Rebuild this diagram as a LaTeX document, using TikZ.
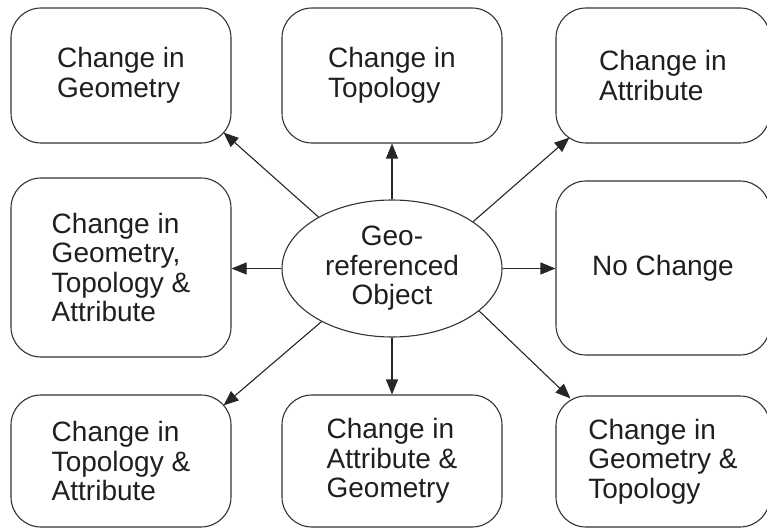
\documentclass[tikz,border=0pt]{standalone}
\usepackage{fontspec}
\setmainfont{Liberation Sans}
\usetikzlibrary{shapes,arrows.meta,calc}
\begin{document}
\begin{tikzpicture}[x=1pt,y=-1pt,
chg/.style={draw=black!80,line width=1.1pt,rounded corners=30pt,minimum width=220pt,minimum height=135pt,inner sep=0pt,align=left,text=black!88,font=\fontsize{28}{29.5}\selectfont},
obj/.style={ellipse,draw=black!80,line width=1.1pt,minimum width=220pt,minimum height=137pt,inner sep=0pt,align=center,text=black!88,font=\fontsize{28}{29.5}\selectfont},
arr/.style={draw=black!85,line width=1.1pt,-{Triangle[length=15pt,width=12pt]}}]
\useasboundingbox(0,0)rectangle(767,529);
\node[obj](geo)at(392,268.5){Geo-\\referenced\\Object};
\node[chg](g)at(121,75.5){Change in\\Geometry};
\node[chg](t)at(392,75.5){Change in\\Topology};
\node[chg,minimum width=214pt](a)at(663,75.5){Change in\\Attribute};
\node[chg,minimum height=179pt](gta)at(121,267.5){Change in\\Geometry,\\Topology \&\\Attribute};
\node[chg,minimum width=214pt,minimum height=174pt](nc)at(663,268){No Change};
\node[chg,minimum height=132pt](ta)at(121,461){Change in\\Topology \&\\Attribute};
\node[chg,minimum height=132pt](ag)at(392,461){Change in\\Attribute \&\\Geometry};
\node[chg,minimum width=214pt,minimum height=131pt](gt)at(663,461.5){Change in\\Geometry \&\\Topology};
\draw[arr](geo.145)--($(g.south east)+(-8,-11)$);
\draw[arr](geo.north)--(t.south);
\draw[arr](geo.30.7)--($(a.south west)+(14,-6)$);
\draw[arr](geo.west)--(geo.west-|gta.east);
\draw[arr](geo.east)--(geo.east-|nc.west);
\draw[arr](geo.217.4)--($(ta.north east)+(-8,11)$);
\draw[arr](geo.south)--(ag.north);
\draw[arr](geo.-26.8)--($(gt.north west)+(15,3)$);
\end{tikzpicture}
\end{document}
